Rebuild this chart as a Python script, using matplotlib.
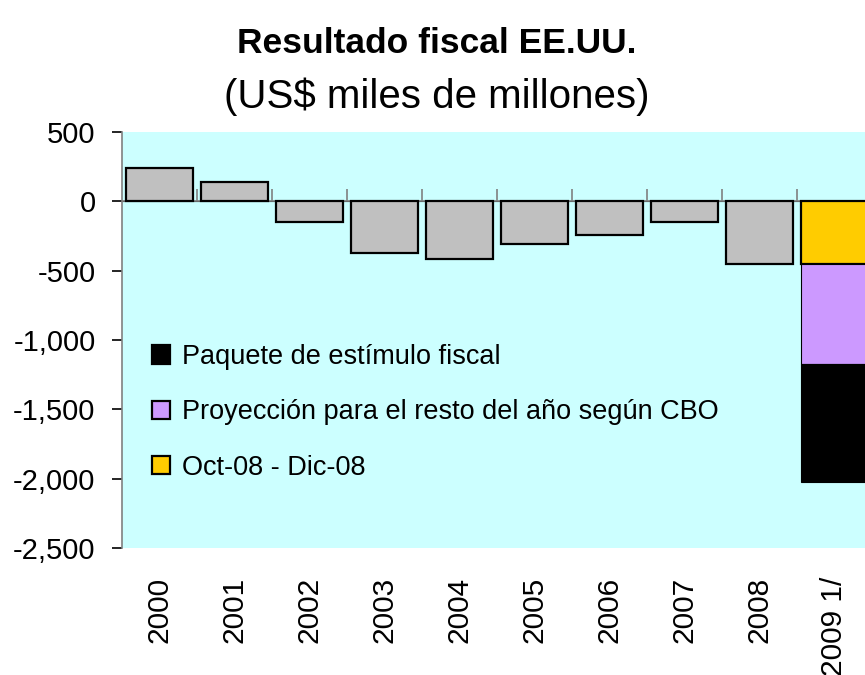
import numpy as np
import matplotlib
matplotlib.use("Agg")
import matplotlib.pyplot as plt
from matplotlib import font_manager
from matplotlib.patches import Patch
from matplotlib.ticker import FuncFormatter

# narrow font if there is one, else Arial-like with smaller sizes
names = {f.name for f in font_manager.fontManager.ttflist}
if 'Liberation Sans Narrow' in names:
    family, k = 'Liberation Sans Narrow', 1.2
else:
    family, k = 'Liberation Sans', 1.0
plt.rcParams['font.family'] = [family, 'DejaVu Sans']

# data (US$ miles de millones)
years = ['2000', '2001', '2002', '2003', '2004', '2005', '2006', '2007', '2008', '2009 1/']
balance = [240, 140, -150, -370, -415, -310, -245, -150, -455, 0]
oct_dic_08 = -455
proyeccion_cbo = -720
paquete = -850

fig = plt.figure(figsize=(8.65, 6.75), dpi=100)
ax = fig.add_axes([122/865, 127/675, 750/865, 416/675])
ax.set_facecolor('#CCFFFF')

x = np.arange(len(years))
ax.bar(x[:-1], balance[:-1], width=0.9, color='#C0C0C0', edgecolor='black', linewidth=1.6, zorder=3)

# stacked bar for 2009
last = x[-1]
ax.bar(last, oct_dic_08, width=0.9, color='#FFCC00', edgecolor='black', linewidth=1.6, zorder=3)
ax.bar(last, proyeccion_cbo, bottom=oct_dic_08, width=0.9, color='#CC99FF', edgecolor='black', linewidth=0.8, zorder=3)
ax.bar(last, paquete, bottom=oct_dic_08 + proyeccion_cbo, width=0.9, color='black', edgecolor='black', linewidth=0.8, zorder=3)

ymin, ymax = -2500, 500
ax.set_ylim(ymin, ymax)
ax.set_xlim(-0.5, len(years) - 0.5)
ax.set_yticks(np.arange(ymin, ymax + 1, 500))
ax.yaxis.set_major_formatter(FuncFormatter(lambda v, p: f'{int(v):,}'))

ax.set_xticks(x)
ax.set_xticklabels(years, rotation=90, fontsize=21.5 * k)
ax.tick_params(axis='x', length=0, pad=21)
ax.tick_params(axis='y', labelsize=21 * k, length=7, width=1.2, direction='out', pad=12)

for s in ['top', 'right', 'bottom']:
    ax.spines[s].set_visible(False)
ax.spines['left'].set_color('#808080')
ax.spines['left'].set_linewidth(1.2)

# category axis crossing at zero
ax.axhline(0, color='#808080', linewidth=1.2, zorder=2)
zero_ax = ax.secondary_xaxis((0 - ymin) / (ymax - ymin))
zero_ax.set_xticks(np.arange(0.5, len(years) - 1, 1.0))
zero_ax.set_xticklabels([])
zero_ax.tick_params(length=9, width=1.2, color='#808080', direction='out')
zero_ax.spines['bottom'].set_visible(False)

handles = [
    Patch(facecolor='black', edgecolor='black', label='Paquete de estímulo fiscal'),
    Patch(facecolor='#CC99FF', edgecolor='black', label='Proyección para el resto del año según CBO'),
    Patch(facecolor='#FFCC00', edgecolor='black', label='Oct-08 - Dic-08'),
]
leg = ax.legend(handles=handles, loc='upper left', bbox_to_anchor=(0.04, 0.49), frameon=False,
                fontsize=19.5 * k, handlelength=0.67, handleheight=0.67, handletextpad=0.45,
                labelspacing=1.08, borderaxespad=0, borderpad=0)
for h in leg.legend_handles:
    h.set_linewidth(1.6)

fig.text(0.505, (675 - 53) / 675, 'Resultado fiscal EE.UU.', ha='center', va='baseline',
         fontsize=25.5 * k, fontweight='bold')
fig.text(0.505, (675 - 108) / 675, '(US$ miles de millones)', ha='center', va='baseline',
         fontsize=29 * k)

fig.savefig('out.png', dpi=100)
